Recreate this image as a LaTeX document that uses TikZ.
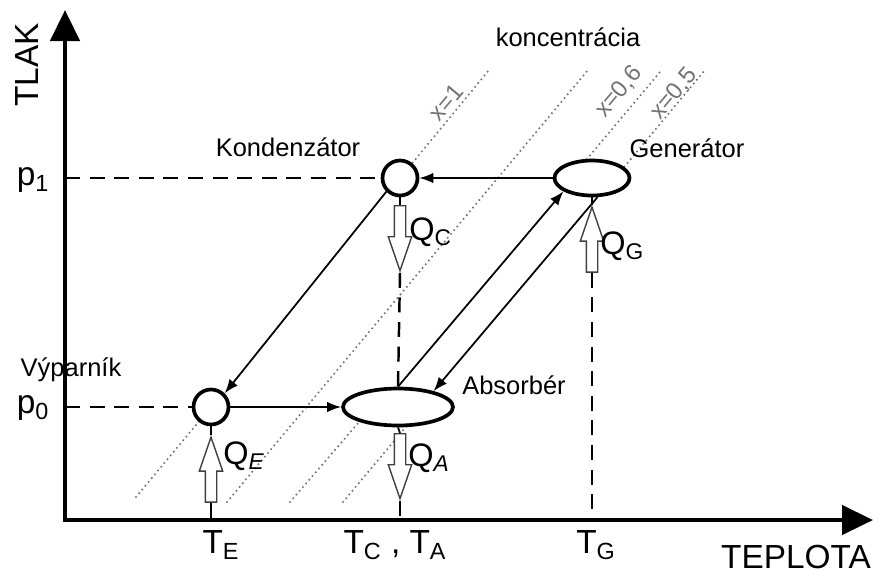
\documentclass[tikz,border=0pt]{standalone}
\usepackage{fontspec}
\setmainfont{Liberation Sans}
\usetikzlibrary{arrows.meta,positioning,shapes.geometric,shapes.arrows,backgrounds}

\begin{document}
\begin{tikzpicture}[
    x=0.02cm, y=-0.02cm,
    axis/.style={line width=2.6pt, line cap=rect, -{Triangle[length=0.62cm,width=0.58cm]}},
    unit/.style={draw, line width=2.1pt, fill=white, inner sep=0pt},
    flow/.style={line width=1pt, -{Latex[length=8pt,width=6pt]}},
    level/.style={line width=1.4pt, dash pattern=on 8.5pt off 5.5pt},
    conc/.style={draw=black!55, line width=1.3pt, line cap=round, dash pattern=on 0pt off 2.8pt},
    heat/.style={single arrow, draw=black!75, line width=0.8pt, fill=white,
        inner xsep=0pt, inner ysep=0.1cm, minimum height=1.3cm,
        single arrow head extend=0.12cm, single arrow tip angle=38},
    lab/.style={font=\fontsize{14.5}{17}\selectfont},
    ax/.style={font=\fontsize{19}{22}\selectfont},
    qlab/.style={font=\fontsize{18.5}{22}\selectfont, anchor=west, inner sep=0pt},
    xlab/.style={text=black!55, font=\fontsize{13.5}{16}\selectfont, rotate=50, inner sep=0pt}
]
\useasboundingbox (0,0) rectangle (873,583);

% axes
\coordinate (orig) at (65,520);
\coordinate (ytop) at (65,10);
\coordinate (xend) at (873,520);
\draw[axis] (orig) -- (ytop);
\draw[axis] (orig) -- (xend);
\node[ax, rotate=90] (tlak) at (27,65) {TLAK};
\node[ax] (teplota) at (796,557) {TEPLOTA};

% components
\node[unit, circle, minimum size=0.7cm] (kond) at (400,178) {};
\node[unit, ellipse, minimum width=1.5cm, minimum height=0.7cm] (gen) at (592,178) {};
\node[unit, circle, minimum size=0.7cm] (vyp) at (211,407) {};
\node[unit, ellipse, minimum width=2.2cm, minimum height=0.74cm] (abs) at (398,407) {};

\node[lab] (kondlab) at (288,147) {Kondenzátor};
\node[lab] (genlab) at (687,148) {Generátor};
\node[lab] (vyplab) at (71,370) {Výparník};
\node[lab] (abslab) at (514,385) {Absorbér};
\node[lab] (konc) at (568,37) {koncentrácia};

% concentration lines
\begin{scope}[on background layer]
\draw[conc] (136,497) -- (vyp.center);
\draw[conc] (kond.center) -- (489,70);
\draw[conc] (227,502) -- (588,70);
\draw[conc] (290,502) -- (372,407);
\draw[conc] (571,178) -- (660,72);
\draw[conc] (343,502) -- (410,422);
\draw[conc] (615,178) -- (705,70);
\end{scope}
\node[xlab] (x1) at (446,102) {x=1};
\node[xlab] (x06) at (619,92) {x=0,6};
\node[xlab] (x05) at (674,94) {x=0,5};

% pressure levels
\node[ax] (p1) at (33,180) {p\textsubscript{1}};
\node[ax] (p0) at (33,408) {p\textsubscript{0}};
\draw[level] (orig |- kond) -- (kond.west);
\draw[level] (orig |- vyp) -- (vyp.west);

% cycle
\draw[flow] (gen.west) -- (kond.east);
\draw[flow] (kond.225) -- (vyp.45);
\draw[flow] (vyp.east) -- (abs.west);
\draw[flow] (abs.north) -- (gen.205);
\draw[flow] (gen.286) -- (abs.24);

% temperatures
\coordinate (tE) at (211,520);
\coordinate (tA) at (400,520);
\coordinate (tG) at (592,520);
\node[ax] (te) at (221,545) {T\textsubscript{E}};
\node[ax] (tca) at (395,545) {T\textsubscript{C} , T\textsubscript{A}};
\node[ax] (tg) at (596,545) {T\textsubscript{G}};

% heat flows
\node[heat, rotate=-90, anchor=tail] (qc) at (400,205) {};
\draw[line width=1pt] (kond.south) -- (qc.tail);
\draw[level] (qc.tip) -- (abs.north);
\node[qlab] (qclab) at (409,232) {Q\textsubscript{C}};

\node[heat, rotate=-90, anchor=tail] (qa) at (400,433) {};
\draw[line width=1pt] (abs.south) -- (qa.tail);
\draw[level] (qa.tip) -- (tA);
\node[qlab] (qalab) at (408,458) {Q\textsubscript{\itshape A}};

\node[heat, rotate=90, anchor=tip] (qe) at (211,435) {};
\draw[line width=1pt] (vyp.south) -- (qe.tip);
\draw[level] (qe.tail) -- (tE);
\node[qlab] (qelab) at (223,456) {Q\textsubscript{\itshape E}};

\node[heat, rotate=90, anchor=tip] (qg) at (592,205) {};
\draw[line width=1pt] (gen.south) -- (qg.tip);
\draw[level] (qg.tail) -- (tG);
\node[qlab] (qglab) at (600,246) {Q\textsubscript{G}};

\end{tikzpicture}
\end{document}
